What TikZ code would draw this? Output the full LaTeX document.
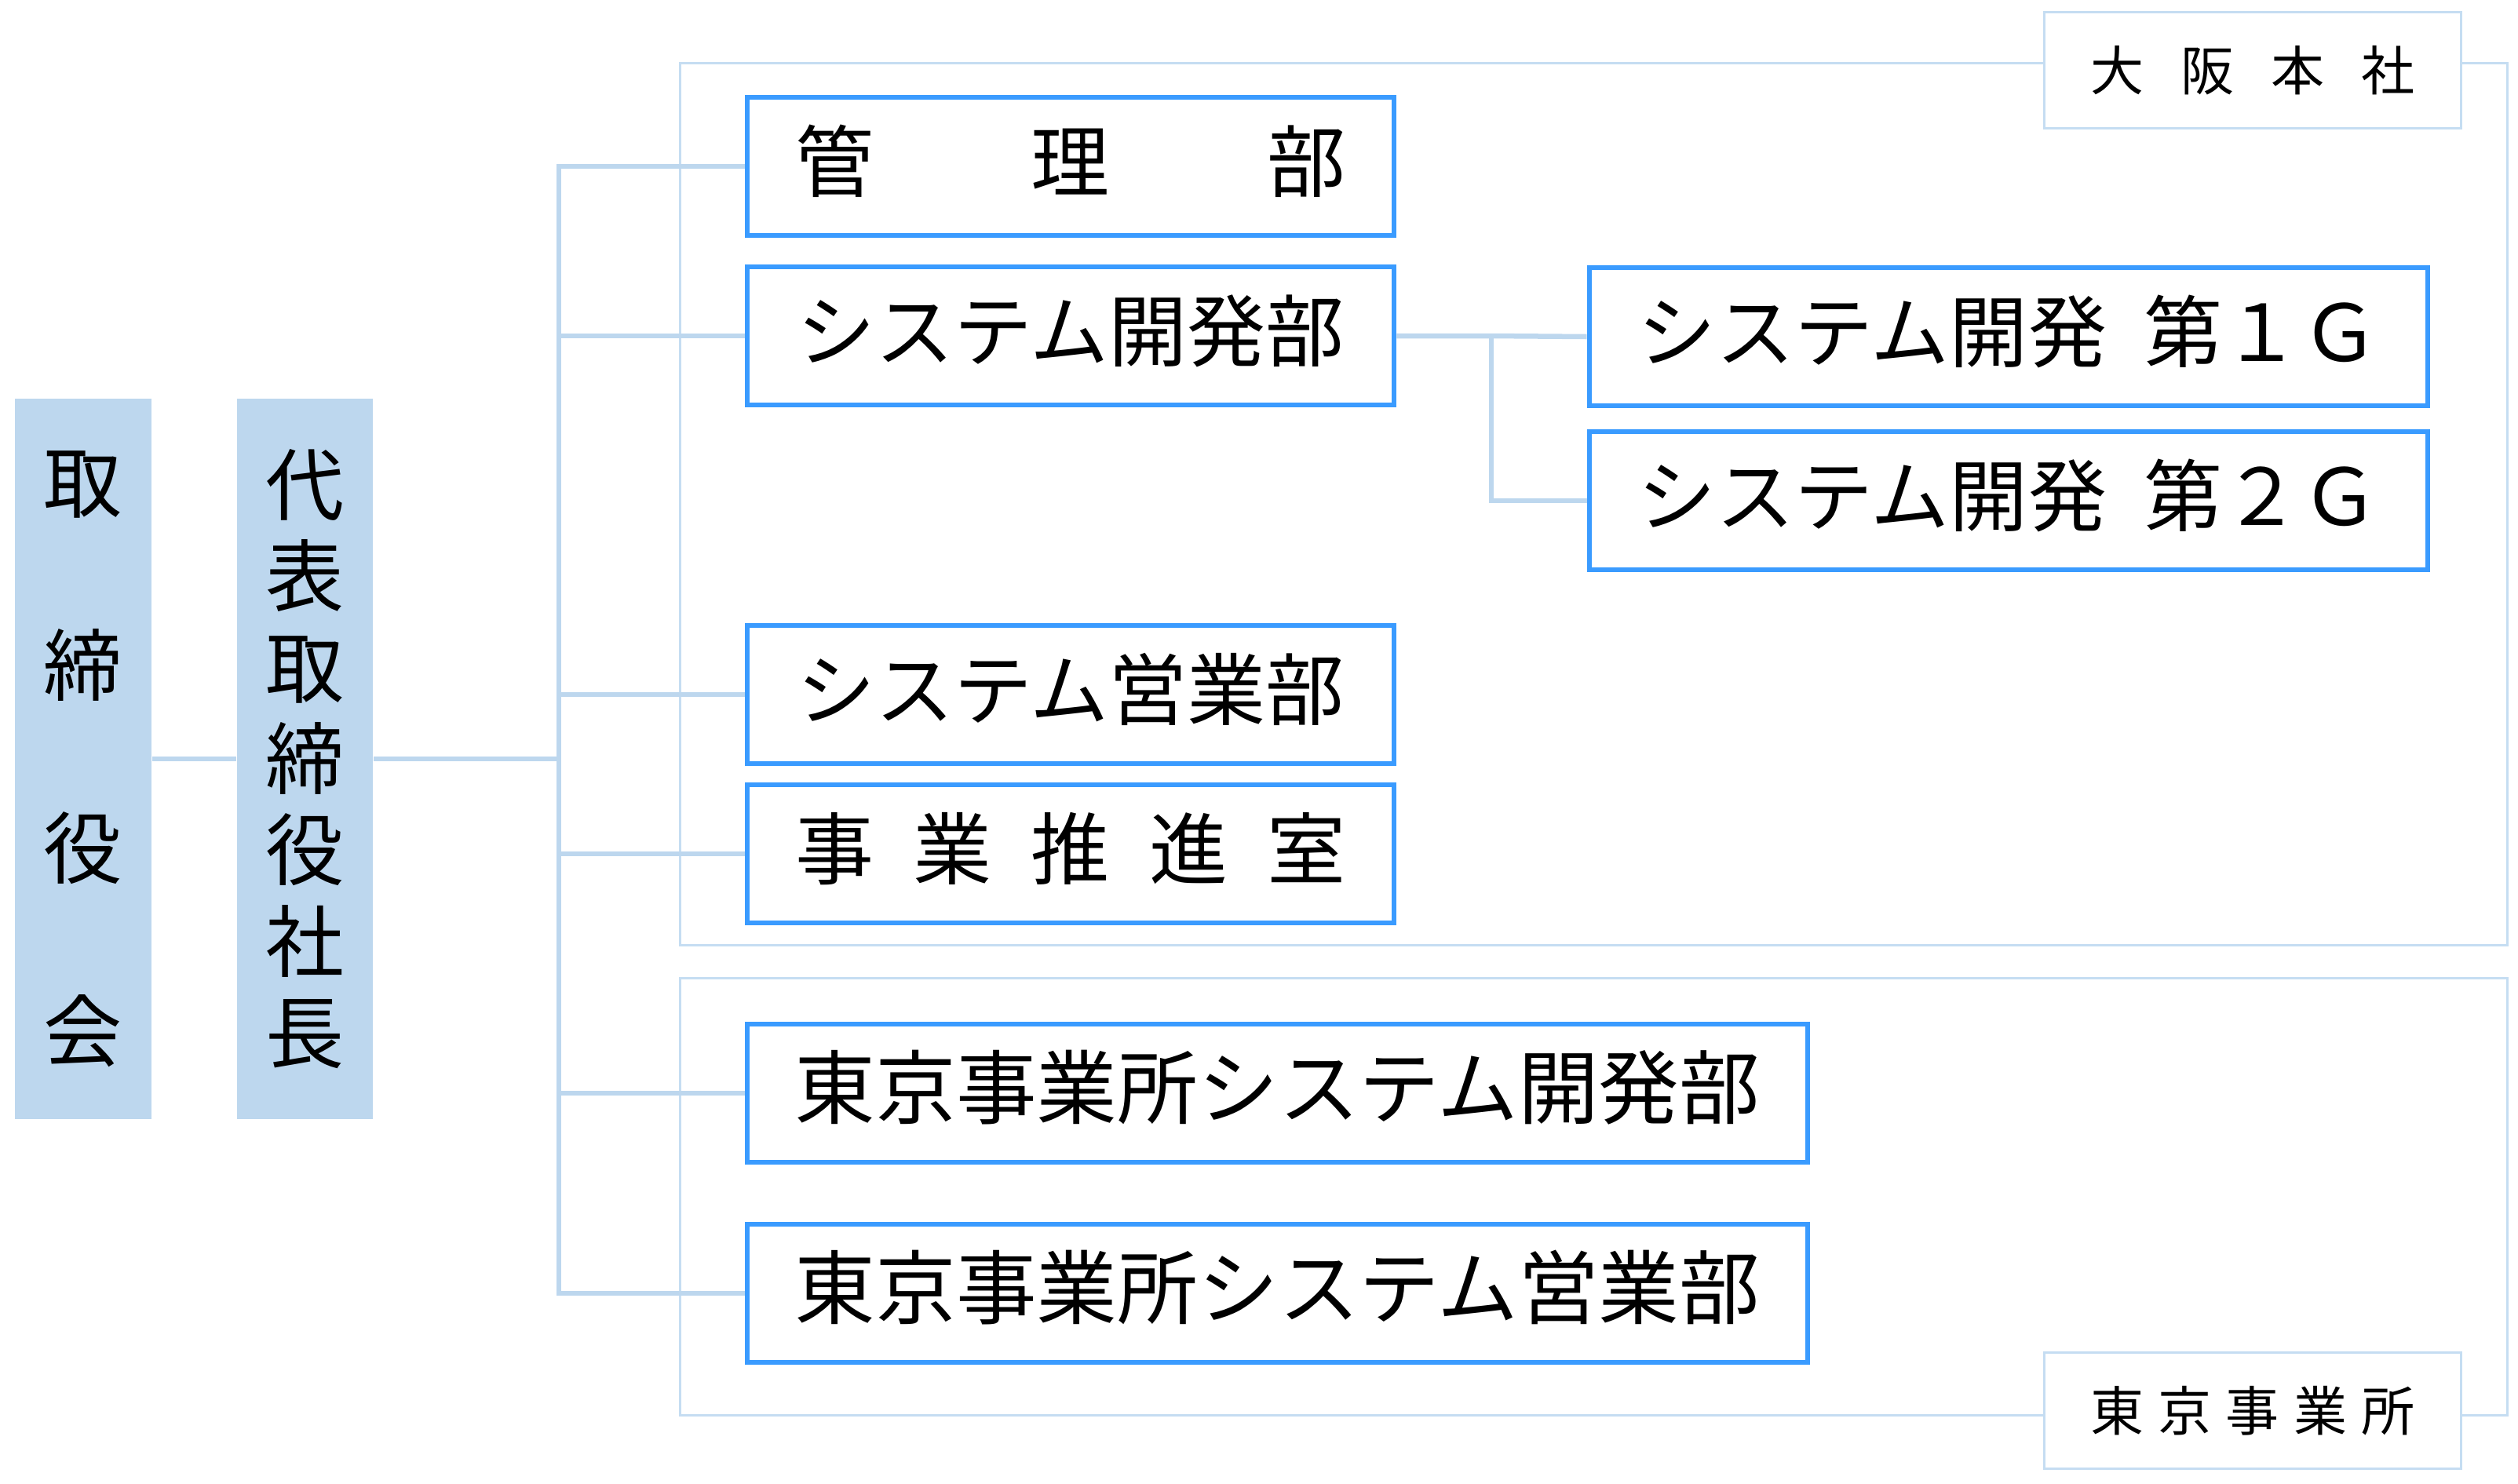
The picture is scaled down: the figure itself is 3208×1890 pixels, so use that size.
\documentclass[tikz,border=0pt]{standalone}
\usepackage{fontspec}
\setmainfont{Noto Sans CJK JP}
\usetikzlibrary{backgrounds}
\definecolor{lb}{RGB}{189,215,238}
\definecolor{rg}{RGB}{197,221,242}
\definecolor{bb}{RGB}{58,155,255}
\begin{document}
\begin{tikzpicture}[x=0.01cm,y=-0.01cm,
 conn/.style={draw=lb,line width=0.065cm},
 dept/.style={draw=bb,fill=white,line width=0.06cm,minimum height=1.76cm,inner sep=0pt,text height=0.74cm,text depth=0.12cm,font=\fontsize{28.45}{30}\selectfont},
 exec/.style={fill=lb,minimum width=1.74cm,minimum height=9.18cm,inner sep=0pt,align=center},
 region/.style={draw=rg,line width=0.03cm},
 lbl/.style={draw=rg,fill=white,line width=0.03cm,minimum width=5.31cm,minimum height=1.48cm,inner sep=0pt,font=\fontsize{19.35}{20}\selectfont}]
\useasboundingbox (0,0) rectangle (3208,1890);
\node[exec,font=\fontsize{28.45}{66.3}\selectfont] (board) at (106,967) {取\\締\\役\\会};
\node[exec,minimum width=1.73cm,font=\fontsize{28.45}{33.09}\selectfont] (pres) at (388.5,967) {代\\表\\取\\締\\役\\社\\長};
\node[dept,minimum width=8.24cm] (kanri) at (1364,212) {\makebox[7em][s]{管\hfill{}理\hfill{}部}};
\node[dept,minimum width=8.24cm] (sdev) at (1364,428) {システム開発部};
\node[dept,minimum width=8.24cm] (ssales) at (1364,885) {システム営業部};
\node[dept,minimum width=8.24cm] (jigyo) at (1364,1088) {\makebox[7em][s]{事\hfill{}業\hfill{}推\hfill{}進\hfill{}室}};
\node[dept,minimum width=13.51cm,font=\fontsize{29.2}{30}\selectfont] (tdev) at (1627.5,1393) {東京事業所システム開発部};
\node[dept,minimum width=13.51cm,font=\fontsize{29.2}{30}\selectfont] (tsales) at (1627.5,1648) {東京事業所システム営業部};
\node[dept,minimum width=10.68cm] (g1) at (2559,429) {システム開発\hspace{0.47em}第１Ｇ};
\node[dept,minimum width=10.68cm] (g2) at (2559,638) {システム開発\hspace{0.47em}第２Ｇ};
\node[lbl] (osaka) at (2870,89.5) {\makebox[4.13cm][s]{大\hfill{}阪\hfill{}本\hfill{}社}};
\node[lbl] (tokyo) at (2870,1797.5) {\makebox[4.13cm][s]{東\hfill{}京\hfill{}事\hfill{}業\hfill{}所}};
\coordinate (trunk) at (712,0);
\coordinate (jn) at (1900,0);
\begin{scope}[on background layer]
\draw[region] (866,80) rectangle (3194,1204);
\draw[region] (866,1246) rectangle (3194,1803);
\draw[conn] (board.east) -- (pres.west);
\draw[conn] (pres.east) -- (pres.east -| trunk);
\draw[conn] (kanri.west) -- (kanri.west -| trunk) -- (tsales.west -| trunk) -- (tsales.west);
\foreach \nd in {sdev,ssales,jigyo,tdev} \draw[conn] (\nd.west -| trunk) -- (\nd.west);
\draw[conn] (sdev.east) -- (sdev.east -| jn) -- (g1.west);
\draw[conn] (sdev.east -| jn) |- (g2.west);
\end{scope}
\end{tikzpicture}
\end{document}
